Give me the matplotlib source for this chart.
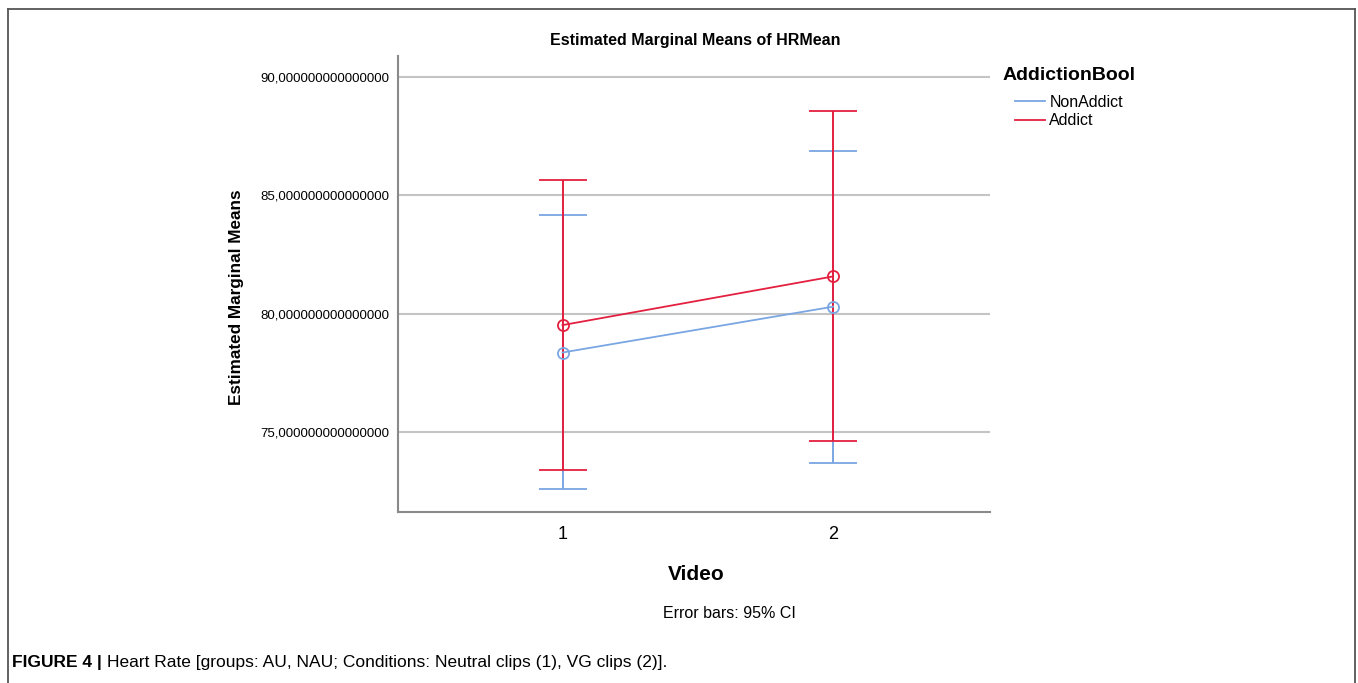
import matplotlib
matplotlib.use("Agg")
import matplotlib.pyplot as plt
from matplotlib.lines import Line2D
import numpy as np

# data
videos = [1, 2]
groups = ["NonAddict", "Addict"]
means = {"NonAddict": [78.35, 80.29], "Addict": [79.51, 81.57]}
lower = {"NonAddict": [72.57, 73.69], "Addict": [73.36, 74.59]}
upper = {"NonAddict": [84.17, 86.89], "Addict": [85.65, 88.56]}
colors = {"NonAddict": "#7aa6e2", "Addict": "#e3203f"}
yticks = [75, 80, 85, 90]

plt.rcParams['font.family'] = ['Liberation Sans', 'DejaVu Sans']

W, H = 1358, 683
fig = plt.figure(figsize=(W/100, H/100), dpi=100)
ax = fig.add_axes([398/W, 1-512/H, (990-398)/W, (512-56)/H])

for g in groups:
    m = np.array(means[g])
    yerr = [m - np.array(lower[g]), np.array(upper[g]) - m]
    ax.errorbar(videos, m, yerr=yerr, color=colors[g], lw=1.3, capsize=17,
                capthick=1.8, elinewidth=1.4, marker='o', ms=8, mfc='none',
                mew=1.3, zorder=3)

ax.set_xlim(0.392, 2.58)
ax.set_ylim(71.6, 90.9)
ax.set_xticks(videos)
ax.set_xticklabels([str(v) for v in videos], fontsize=13)
ax.set_yticks(yticks)
ax.set_yticklabels([f"{v},000000000000000" for v in yticks], fontsize=9.5)
ax.tick_params(length=0, pad=6)
ax.tick_params(axis='x', pad=10)
ax.yaxis.grid(True, color='#c4c4c4', lw=1.5)
ax.set_axisbelow(True)
for s in ['top', 'right']:
    ax.spines[s].set_visible(False)
for s in ['left', 'bottom']:
    ax.spines[s].set_color('#8a8a8a')
    ax.spines[s].set_linewidth(1.5)

fig.text(695/W, 1-41/H, "Estimated Marginal Means of HRMean", ha='center',
         va='center', fontsize=11.5, fontweight='bold')
fig.text(236/W, 1-297/H, "Estimated Marginal Means", rotation=90,
         ha='center', va='center', fontsize=12.3, fontweight='bold')
fig.text(696/W, 1-574/H, "Video", ha='center', va='center',
         fontsize=15, fontweight='bold')
fig.text(729/W, 1-613/H, "Error bars: 95% CI", ha='center', va='center',
         fontsize=11.5)

handles = [Line2D([], [], color=colors[g], lw=1.3) for g in groups]
fig.text(1003/W, 1-75/H, "AddictionBool", ha='left', va='center',
         fontsize=14, fontweight='bold')
fig.legend(handles, groups, loc='upper left', bbox_to_anchor=(1015/W, 1-95/H),
           frameon=False, fontsize=11.5, handlelength=1.9, handletextpad=0.25,
           labelspacing=0.2, borderaxespad=0, borderpad=0)

fig.text(12/W, 1-662/H, "FIGURE 4 |", ha='left', va='center',
         fontsize=12.5, fontweight='bold')
fig.text(107/W, 1-662/H,
         "Heart Rate [groups: AU, NAU; Conditions: Neutral clips (1), VG clips (2)].",
         ha='left', va='center', fontsize=12.5)

# frame around the figure panel
fig.add_artist(Line2D([8/W, 8/W], [0, 1-9/H], color='#555555', lw=1.3))
fig.add_artist(Line2D([8/W, 1355/W], [1-9/H, 1-9/H], color='#555555', lw=1.3))
fig.add_artist(Line2D([1355/W, 1355/W], [0, 1-9/H], color='#555555', lw=1.3))

fig.savefig("out.png", dpi=100)
